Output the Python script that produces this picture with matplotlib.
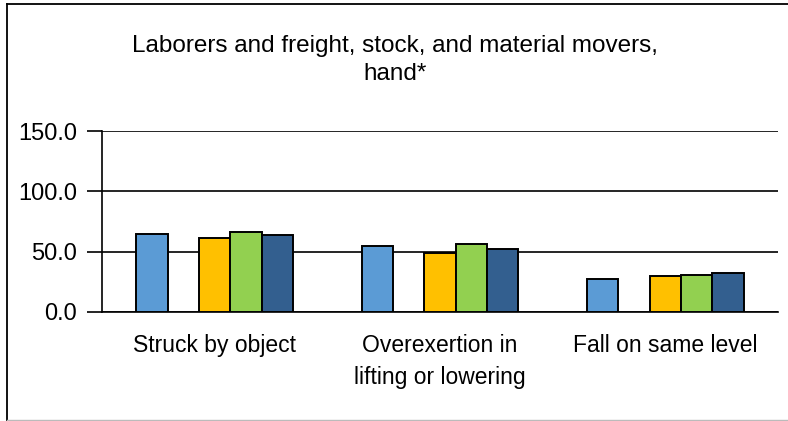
import numpy as np
import matplotlib
matplotlib.use("Agg")
import matplotlib.pyplot as plt
from matplotlib.lines import Line2D

plt.rcParams['font.family'] = ['Liberation Sans', 'DejaVu Sans']

title = "Laborers and freight, stock, and material movers,\nhand*"
categories = ["Struck by object", "Overexertion in\nlifting or lowering", "Fall on same level"]

# five series per group; the second one has no data in the chart
series_a = [64.6, 54.7, 27.6]
series_b = [np.nan, np.nan, np.nan]
series_c = [61.3, 49.1, 30.1]
series_d = [66.5, 56.1, 30.4]
series_e = [63.5, 52.4, 32.0]
yticks = [0.0, 50.0, 100.0, 150.0]

series = [series_a, series_b, series_c, series_d, series_e]
colors = ["#5B9BD5", "#A5A5A5", "#FFC000", "#92D050", "#335F8F"]

fig = plt.figure(figsize=(7.88, 4.21), dpi=100)
W, H = 788, 421
ax = fig.add_axes([102 / W, (H - 312) / H, 676 / W, 181 / H])

x = np.arange(len(categories))
bw = 0.139
for i, (vals, col) in enumerate(zip(series, colors)):
    ax.bar(x + (i - 2) * bw, vals, width=bw, color=col, edgecolor="black",
           linewidth=1.4, zorder=3)

ax.set_xlim(-0.5, len(categories) - 0.5)
ax.set_ylim(0, 150)
ax.set_yticks(yticks)
ax.set_yticklabels([f"{v:.1f}" for v in yticks], fontsize=17)
ax.yaxis.grid(True, color="black", linewidth=1.2, zorder=0)
ax.tick_params(axis="y", length=11, width=1.2, pad=7)
ax.set_xticks(x)
ax.set_xticklabels(categories, fontsize=16.5, linespacing=1.5)
ax.tick_params(axis="x", length=0, pad=16)

for s in ["top", "right"]:
    ax.spines[s].set_visible(False)
ax.spines["left"].set_linewidth(1.2)
ax.spines["bottom"].set_linewidth(1.2)

fig.text(395 / W, 1 - 60 / H, title, ha="center", va="center",
         fontsize=17.5, linespacing=1.4)

# chart border
fig.add_artist(Line2D([7 / W, 1.0], [1 - 4 / H, 1 - 4 / H], color="black", lw=1.3,
                      transform=fig.transFigure))
fig.add_artist(Line2D([7 / W, 7 / W], [1 - 4 / H, 0], color="black", lw=1.3,
                      transform=fig.transFigure))
fig.add_artist(Line2D([7 / W, 1.0], [1.5 / H, 1.5 / H], color="#BBBBBB", lw=1.0,
                      transform=fig.transFigure))

fig.savefig("out.png", dpi=100)
